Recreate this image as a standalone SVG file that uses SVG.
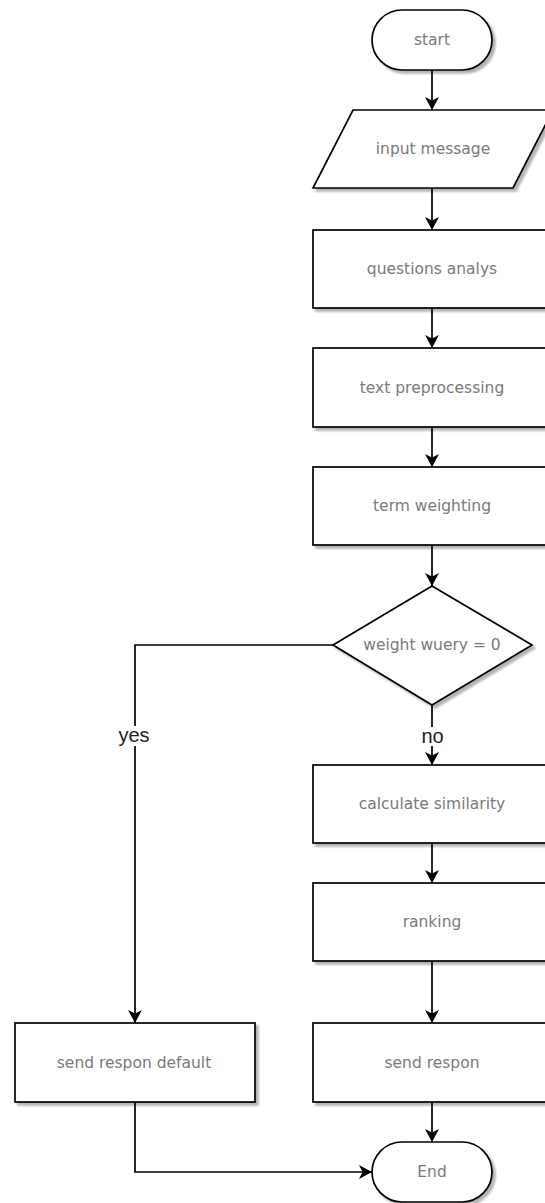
<svg xmlns="http://www.w3.org/2000/svg" width="545" height="1203" viewBox="0 0 545 1203">
  <defs>
    <filter id="shadow" x="-10%" y="-10%" width="130%" height="130%">
      <feGaussianBlur in="SourceAlpha" stdDeviation="1"/>
      <feOffset dx="3" dy="3" result="off"/>
      <feComponentTransfer><feFuncA type="linear" slope="0.3"/></feComponentTransfer>
      <feMerge><feMergeNode/><feMergeNode in="SourceGraphic"/></feMerge>
    </filter>
    <marker id="arrow" viewBox="0 0 13 14" refX="13" refY="7" markerWidth="13" markerHeight="14" markerUnits="userSpaceOnUse" orient="auto">
      <path d="M0,0 L13,7 L0,14 L3.5,7 Z" fill="#000"/>
    </marker>
  </defs>
  <style>
    .shape { fill: #fff; stroke: #000; stroke-width: 1.7; filter: url(#shadow); }
    .label { font-family: "DejaVu Sans", Verdana, sans-serif; font-size: 15.5px; fill: #7a7a7a; text-anchor: middle; dominant-baseline: central; }
    .edge { fill: none; stroke: #000; stroke-width: 1.7; marker-end: url(#arrow); }
    .elabel { font-family: "Liberation Sans", Arial, sans-serif; font-size: 20px; fill: #222; text-anchor: middle; dominant-baseline: central; }
  </style>
  <rect width="545" height="1203" fill="#fff"/>

  <g id="connectors">
    <path class="edge" d="M432,70 L432,110"/>
    <path class="edge" d="M432,188 L432,230"/>
    <path class="edge" d="M432,308 L432,348"/>
    <path class="edge" d="M432,427 L432,467"/>
    <path class="edge" d="M432,545 L432,586"/>
    <path class="edge" d="M432,705 L432,765"/>
    <path class="edge" d="M432,843 L432,883"/>
    <path class="edge" d="M432,961 L432,1023"/>
    <path class="edge" d="M432,1102 L432,1142"/>
    <path class="edge" d="M333,645 L135,645 L135,1023"/>
    <path class="edge" d="M135,1102 L135,1172 L372,1172"/>
    <rect x="116" y="726" width="38" height="20" fill="#fff"/>
    <text class="elabel" x="134" y="735">yes</text>
    <rect x="419" y="727" width="27" height="19" fill="#fff"/>
    <text class="elabel" x="432.5" y="736">no</text>
  </g>

  <g id="start">
    <rect class="shape" x="372" y="10" width="120" height="60" rx="30" ry="30"/>
    <text class="label" x="432" y="40">start</text>
  </g>
  <g id="input-message">
    <path class="shape" d="M353,110 L553,110 L513,188 L313,188 Z"/>
    <text class="label" x="433" y="149">input message</text>
  </g>
  <g id="questions-analys">
    <rect class="shape" x="313" y="230" width="240" height="78"/>
    <text class="label" x="432" y="269">questions analys</text>
  </g>
  <g id="text-preprocessing">
    <rect class="shape" x="313" y="348" width="240" height="79"/>
    <text class="label" x="432" y="388">text preprocessing</text>
  </g>
  <g id="term-weighting">
    <rect class="shape" x="313" y="467" width="240" height="78"/>
    <text class="label" x="432" y="506">term weighting</text>
  </g>
  <g id="weight-check">
    <path class="shape" d="M432,586 L532,645 L432,705 L333,645 Z"/>
    <text class="label" x="432" y="645">weight wuery = 0</text>
  </g>
  <g id="calculate-similarity">
    <rect class="shape" x="313" y="765" width="240" height="78"/>
    <text class="label" x="432" y="804">calculate similarity</text>
  </g>
  <g id="ranking">
    <rect class="shape" x="313" y="883" width="240" height="78"/>
    <text class="label" x="432" y="922">ranking</text>
  </g>
  <g id="send-respon">
    <rect class="shape" x="313" y="1023" width="240" height="79"/>
    <text class="label" x="432" y="1063">send respon</text>
  </g>
  <g id="send-respon-default">
    <rect class="shape" x="15" y="1023" width="240" height="79"/>
    <text class="label" x="134" y="1063">send respon default</text>
  </g>
  <g id="end">
    <rect class="shape" x="372" y="1142" width="120" height="60" rx="30" ry="30"/>
    <text class="label" x="432" y="1172">End</text>
  </g>
</svg>
